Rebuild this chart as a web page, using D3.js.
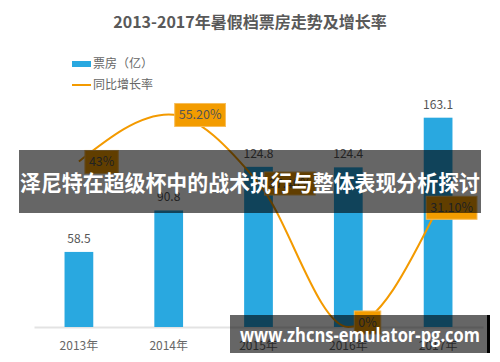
<!DOCTYPE html>
<html>
<head>
<meta charset="utf-8">
<script src="https://cdn.jsdelivr.net/npm/d3@7"></script>
<style>
  body { margin: 0; background: #fff; }
  svg { display: block; font-family: "Noto Sans CJK SC", "Noto Sans", sans-serif; }
</style>
</head>
<body>
<svg id="chart" width="500" height="362"></svg>
<script>
// data
const years = ["2013年", "2014年", "2015年", "2016年", "2017年"];
const boxOffice = [58.5, 90.8, 124.8, 124.4, 163.1];
const growth = [43, 55.2, 37.4, 0, 31.1];
const growthLabels = ["43%", "55.20%", "37.40%", "0%", "31.10%"];

const svg = d3.select("#chart");
const base = 327;

const x = d3.scaleBand()
    .domain(years)
    .range([34, 483])
    .paddingInner(0.68)
    .paddingOuter(0.34);

const yBar = d3.scaleLinear().domain([0, 180]).range([base, 96]);
const yLine = d3.scaleLinear().domain([0, 60]).range([base, 96]);
const cx = d => x(d) + x.bandwidth() / 2;

// title
svg.append("text")
    .attr("x", 250).attr("y", 28)
    .attr("text-anchor", "middle")
    .style("font-size", "16px")
    .style("font-weight", "bold")
    .style("fill", "#595959")
    .text("2013-2017年暑假档票房走势及增长率");

// legend
svg.append("rect").attr("x", 72).attr("y", 61).attr("width", 19).attr("height", 6).attr("fill", "#29a8e0");
svg.append("text").attr("x", 93).attr("y", 68).style("font-size", "12px").style("fill", "#666").text("票房（亿）");
svg.append("line").attr("x1", 72).attr("x2", 91).attr("y1", 85).attr("y2", 85)
    .attr("stroke", "#f39a00").attr("stroke-width", 2);
svg.append("text").attr("x", 93).attr("y", 89).style("font-size", "12px").style("fill", "#666").text("同比增长率");

// x axis
const xAxis = svg.append("g")
    .attr("transform", `translate(0,${base})`)
    .call(d3.axisBottom(x).tickSize(0).tickPadding(14));
xAxis.select(".domain").attr("stroke", "#e3e3e3").attr("stroke-width", 2);
xAxis.selectAll("text")
    .style("font-size", "12px")
    .style("fill", "#666")
    .style("font-family", "'Noto Sans CJK SC', sans-serif");

// bars
svg.selectAll(".bar")
    .data(years)
    .enter()
    .append("rect")
    .attr("class", "bar")
    .attr("x", d => x(d))
    .attr("y", (d, i) => yBar(boxOffice[i]))
    .attr("width", x.bandwidth())
    .attr("height", (d, i) => base - yBar(boxOffice[i]))
    .attr("fill", "#29a8e0");

svg.selectAll(".val")
    .data(years)
    .enter()
    .append("text")
    .attr("class", "val")
    .attr("x", d => cx(d))
    .attr("y", (d, i) => yBar(boxOffice[i]) - 9)
    .attr("text-anchor", "middle")
    .style("font-size", "12px")
    .style("fill", "#555")
    .text((d, i) => boxOffice[i]);

// growth line
const line = d3.line()
    .x((d, i) => cx(years[i]))
    .y(d => yLine(d))
    .curve(d3.curveMonotoneX);

svg.append("path")
    .datum(growth)
    .attr("d", line)
    .attr("fill", "none")
    .attr("stroke", "#f39a00")
    .attr("stroke-width", 2);

// growth labels
growth.forEach((g, i) => {
    const px = cx(years[i]);
    const py = yLine(g);
    const grp = svg.append("g");
    const t = grp.append("text")
        .style("font-size", "12.5px")
        .style("fill", "#555")
        .text(growthLabels[i]);
    const w = t.node().getComputedTextLength() + 8;
    let left = px + 6;
    if (left + w > 477) left = 477 - w;
    const cy = i === 3 ? py - 5 : py;
    grp.insert("rect", "text")
        .attr("x", left).attr("y", cy - 11)
        .attr("width", w).attr("height", 23)
        .attr("fill", "#f39c00")
        .attr("stroke", "#f7bd5a")
        .attr("stroke-width", 1);
    t.attr("x", left + 4).attr("y", cy + 4.5);
});

// banner overlay
svg.append("rect")
    .attr("x", 19).attr("y", 150).attr("width", 462).attr("height", 63)
    .attr("fill", "rgba(0,0,0,0.6)");
svg.append("text")
    .attr("x", 20).attr("y", 191)
    .attr("textLength", 460)
    .attr("lengthAdjust", "spacingAndGlyphs")
    .style("font-size", "22px")
    .style("font-weight", "bold")
    .style("fill", "#fff")
    .text("泽尼特在超级杯中的战术执行与整体表现分析探讨");

// watermark
svg.append("rect")
    .attr("x", 230).attr("y", 315).attr("width", 257).attr("height", 38)
    .attr("fill", "rgba(0,0,0,0.6)");
svg.append("rect")
    .attr("x", 487).attr("y", 315).attr("width", 3).attr("height", 38)
    .attr("fill", "#000");
svg.append("text")
    .attr("x", 240).attr("y", 342)
    .attr("textLength", 240)
    .attr("lengthAdjust", "spacingAndGlyphs")
    .style("font-size", "19px")
    .style("font-weight", "bold")
    .style("font-family", "'Open Sans', sans-serif")
    .style("fill", "#fff")
    .text("www.zhcns-emulator-pg.com");
</script>
</body>
</html>
